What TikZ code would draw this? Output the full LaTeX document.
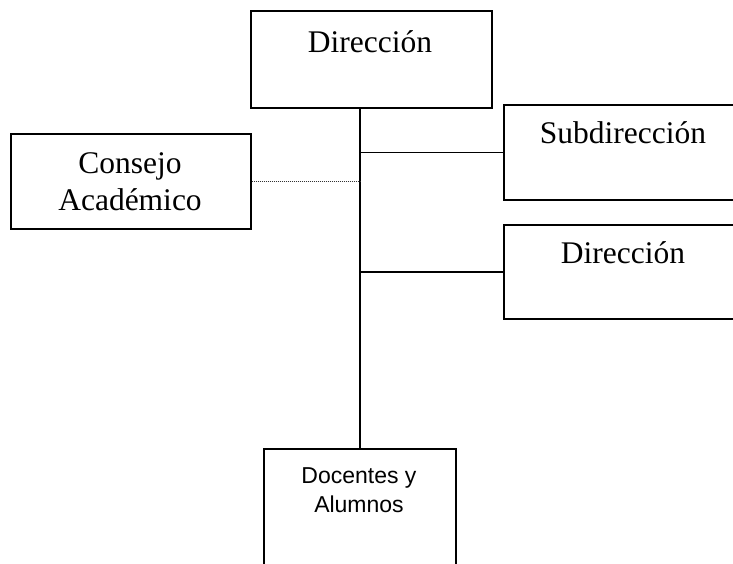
\documentclass[tikz,border=0pt]{standalone}
\usepackage{fontspec}
\setmainfont{Liberation Serif}
\newfontfamily\sansf{Liberation Sans}
\begin{document}
\begin{tikzpicture}[x=1pt,y=-1pt,
  box/.style={draw=black,line width=1.6pt,rectangle,anchor=north west,inner sep=0pt},
  serif/.style={anchor=base,inner sep=0pt,font=\fontsize{31.5}{36}\selectfont},
  sans/.style={anchor=base,inner sep=0pt,font=\sansf\fontsize{23}{28}\selectfont},
  conn/.style={line width=1.5pt},
  dotconn/.style={line width=1pt,dash pattern=on 1pt off 1pt,black!80}]
\clip (0,0) rectangle (733,563);
\fill[white] (0,0) rectangle (733,563);
\node[box,minimum width=241pt,minimum height=97pt] (top) at (250,10) {};
\node[box,minimum width=240pt,minimum height=95pt] (cons) at (10,133) {};
\node[box,minimum width=245pt,minimum height=95pt] (sub) at (503,104) {};
\node[box,minimum width=245pt,minimum height=94pt] (dir2) at (503,224) {};
\node[box,minimum width=192pt,minimum height=130pt] (doc) at (263,448) {};
\node[serif] (ttop) at (370,52) {Dirección};
\node[serif] (tcons1) at (130,173) {Consejo};
\node[serif] (tcons2) at (130,210) {Académico};
\node[serif] (tsub) at (623,143) {Subdirección};
\node[serif] (tdir2) at (623,263) {Dirección};
\node[sans] (tdoc1) at (359,483) {Docentes y};
\node[sans] (tdoc2) at (359,512) {Alumnos};
\draw[conn] (doc.north) -- (doc.north |- top.south);
\draw[conn] (sub.west) -- (sub.west -| doc.north);
\draw[conn] (dir2.west) -- (dir2.west -| doc.north);
\draw[dotconn] (cons.east) -- (cons.east -| doc.north);
\end{tikzpicture}
\end{document}
